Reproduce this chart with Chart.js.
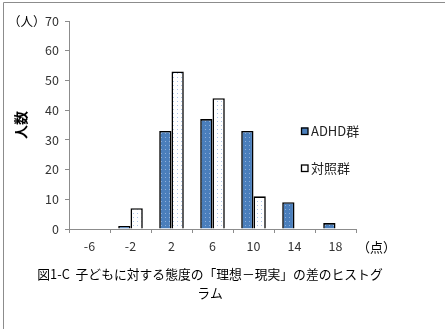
<!DOCTYPE html>
<html>
<head>
<meta charset="utf-8">
<script src="https://cdn.jsdelivr.net/npm/chart.js@4/dist/chart.umd.min.js"></script>
<style>
html,body{margin:0;padding:0;background:#fff;}
#wrap{position:relative;width:445px;height:329px;}
</style>
</head>
<body>
<div id="wrap"><canvas id="c" width="445" height="329"></canvas></div>
<script>
const categories = ['-6', '-2', '2', '6', '10', '14', '18'];
const adhdValues = [0, 1, 33, 37, 33, 9, 2];
const controlValues = [0, 7, 53, 44, 11, 0, 0];
const seriesNames = ['ADHD群', '対照群'];
const yTicks = [0, 10, 20, 30, 40, 50, 60, 70];
const yTitle = '人数';
const yUnit = '（人）';
const xUnit = '（点）';
const captionLines = ['図1-C  子どもに対する態度の「理想－現実」の差のヒストグ', 'ラム'];

const FONT = '"Noto Sans CJK JP", "Noto Sans", sans-serif';

function makePattern(bg, dot) {
  const p = document.createElement('canvas');
  p.width = 4; p.height = 4;
  const g = p.getContext('2d');
  g.fillStyle = bg; g.fillRect(0, 0, 4, 4);
  g.fillStyle = dot; g.fillRect(1, 1, 1, 1);
  const ctx = document.getElementById('c').getContext('2d');
  return ctx.createPattern(p, 'repeat');
}
const adhdFill = makePattern('#4a7ebb', '#8fb0dc');
const controlFill = makePattern('#ffffff', '#a9c2e6');

const extras = {
  id: 'extras',
  afterDraw(chart) {
    const ctx = chart.ctx;
    ctx.save();
    // frame
    ctx.strokeStyle = '#8c8c8c';
    ctx.lineWidth = 1;
    ctx.beginPath();
    ctx.moveTo(3.5, 329); ctx.lineTo(3.5, 2.5); ctx.lineTo(445, 2.5);
    ctx.stroke();
    ctx.fillStyle = '#000';
    ctx.textBaseline = 'middle';
    ctx.font = '12.5px ' + FONT;
    ctx.textAlign = 'left';
    ctx.fillText(yUnit, 8, 21);
    ctx.font = '13px ' + FONT;
    ctx.fillText(xUnit, 357, 247);
    // legend
    const items = [131, 168];
    items.forEach((y, i) => {
      ctx.fillStyle = i === 0 ? '#4a7ebb' : '#fff';
      ctx.fillRect(301, y - 3.5, 7, 7);
      ctx.strokeStyle = '#000';
      ctx.lineWidth = 1.3;
      ctx.strokeRect(301.5, y - 3, 6.5, 6.5);
      ctx.fillStyle = '#222';
      ctx.font = '13px ' + FONT;
      ctx.textAlign = 'left';
      ctx.fillText(seriesNames[i], 311, y);
    });
    // caption
    ctx.fillStyle = '#000';
    ctx.font = '12.8px ' + FONT;
    ctx.textAlign = 'center';
    ctx.fillText(captionLines[0], 210, 274);
    ctx.fillText(captionLines[1], 210, 293);
    ctx.restore();
  }
};

new Chart(document.getElementById('c'), {
  type: 'bar',
  data: {
    labels: categories,
    datasets: [
      { label: seriesNames[0], data: adhdValues, backgroundColor: adhdFill, borderColor: '#000', borderWidth: 1.6, borderSkipped: 'bottom' },
      { label: seriesNames[1], data: controlValues, backgroundColor: controlFill, borderColor: '#000', borderWidth: 1.6, borderSkipped: 'bottom' }
    ]
  },
  options: {
    responsive: false,
    animation: false,
    devicePixelRatio: 1,
    layout: { padding: { left: 3, right: 89, top: 21, bottom: 65 } },
    datasets: { bar: { categoryPercentage: 0.6, barPercentage: 1.0 } },
    plugins: { legend: { display: false }, tooltip: { enabled: false }, title: { display: false } },
    scales: {
      x: {
        offset: true,
        grid: { offset: true, drawOnChartArea: false, drawTicks: true, tickLength: 4, color: '#8c8c8c' },
        border: { color: '#8c8c8c', width: 1 },
        ticks: { color: '#333', font: { family: FONT, size: 12.5 }, padding: 6, maxRotation: 0 },
        afterFit(s) { s.height = 35; }
      },
      y: {
        min: 0, max: 70,
        afterBuildTicks(s) { s.ticks = yTicks.map(v => ({ value: v })); },
        grid: { drawOnChartArea: false, drawTicks: true, tickLength: 4, color: '#8c8c8c' },
        border: { color: '#8c8c8c', width: 1 },
        ticks: { color: '#333', font: { family: FONT, size: 12.5 }, padding: 6 },
        title: { display: true, text: yTitle, color: '#000', font: { family: FONT, size: 14, weight: 'bold' }, padding: { top: 9, bottom: 0 } },
        afterFit(s) { s.width = 66; }
      }
    }
  },
  plugins: [extras]
});
</script>
</body>
</html>
